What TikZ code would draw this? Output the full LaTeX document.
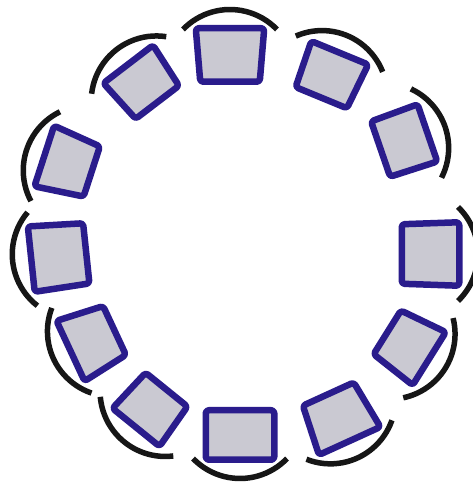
\documentclass[tikz,border=0pt]{standalone}
\definecolor{sqblue}{RGB}{42,28,140}
\definecolor{sqgray}{RGB}{202,201,210}
\definecolor{arcblack}{RGB}{22,22,22}
\tikzset{
  sqbox/.style={draw=sqblue,fill=sqgray,line width=6.5pt,rounded corners=3pt,line join=round},
  capline/.style={draw=arcblack,line width=5.5pt},
}
% \seg{cx}{cy}{outward angle}{outer half width}{inner half width}{half height}
\newcommand\seg[6]{%
  \begin{scope}[shift={(#1,#2)},rotate=#3-90]
    \path[sqbox] (-#4+0.75,#6-0.75) -- (#4-0.75,#6-0.75) -- (#5-0.75,-#6+0.75) -- (-#5+0.75,-#6+0.75) -- cycle;
    \path[capline] (-47,#6-2) arc[start angle=136.1,end angle=43.9,radius=65.2];
  \end{scope}}
\begin{document}
\begin{tikzpicture}[x=1pt,y=1pt]
  \useasboundingbox (0,0) rectangle (473,492);
  \fill[white] (0,0) rectangle (473,492);
  \seg{230}{437}{90}{35}{30.5}{27.5}
  \seg{330.5}{416.75}{67.6}{31.5}{28.5}{25}
  \seg{404}{351}{19}{31}{30}{25.5}
  \seg{430.5}{238}{0}{32.5}{30.5}{29.5}
  \seg{408.25}{146.5}{-32}{32}{26.5}{25.5}
  \seg{339}{74.5}{-65.5}{34.5}{28.7}{26.5}
  \seg{240}{57}{-90}{35}{35}{25.5}
  \seg{151.25}{83.5}{-129}{31}{27.6}{25}
  \seg{92.5}{151.25}{-155}{34}{27.7}{25}
  \seg{58.75}{235.75}{186}{33.6}{31}{28.4}
  \seg{68}{328.25}{162}{32.6}{27.1}{25.7}
  \seg{142.75}{408.75}{127.4}{32}{28}{24.7}
\end{tikzpicture}
\end{document}
